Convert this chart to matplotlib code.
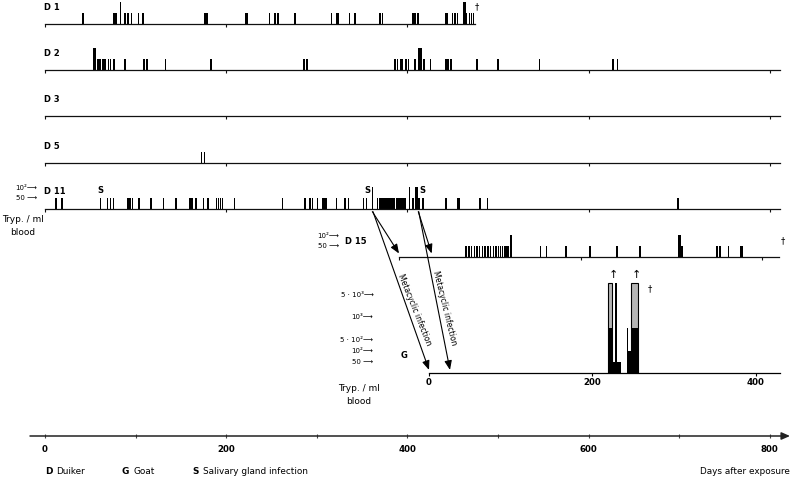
import matplotlib
matplotlib.use('Agg')
import matplotlib.pyplot as plt
from matplotlib.patches import ConnectionPatch

# ---------------- data (days after exposure; parasitaemia level) ----------------
LOW, HIGH = 50, 100          # trypanosomes / ml blood (50 and 10^2 marks)

d1_low = [42, 75.5, 77.5, 79, 88.5, 91.5, 95.5, 103, 108, 176.5, 179, 222, 223.5,
          247.5, 254, 257, 276, 316, 322.5, 324, 336, 342, 370, 372.5, 406, 408.5,
          411.5, 442, 443.5, 449.5, 452.5, 455.5, 465.5, 468.5, 471, 472.8]
d1_high = [83.5, 462, 463.5]
d1_death = 474.6

d2_low = [57.7, 59.6, 61.5, 63.2, 65.1, 67, 70, 72, 76, 88.5, 109.5, 112.5, 133, 183,
          286, 289, 386.5, 389, 393, 394.5, 398.5, 401.5, 408.5, 418.5, 425.5, 442.5,
          445, 448, 477, 500, 546, 627, 632]
d2_high = [53.5, 55, 412.5, 414, 415.5]

d3_low = []
d3_high = []

d5_low = [173, 176]
d5_high = []

d11_low = [12, 19, 61.5, 69, 72, 75.5, 91, 92.7, 94.5, 96.5, 104, 117, 130.5, 144.5,
           159.5, 161, 162.5, 166, 167.5, 175, 180, 189, 191.3, 193.5, 195.7, 209, 262,
           287, 292.5, 295, 300.5, 306.5, 308, 309.5, 311, 322, 331, 335, 351.5, 355, 367,
           370, 371, 372, 373, 374, 376, 377, 378, 379, 380, 382, 383, 384, 385, 386,
           388, 389, 390, 391, 392, 394, 395, 396, 397, 398,
           406, 413, 417, 442.5, 455, 457, 480, 488.5, 698.5]
d11_high = [361.3, 402.6, 409, 410.5]
d11_salivary = [61.5, 355.5, 416]

# D15: days after its own (metacyclic) infection
d15_low = [74, 77, 80, 83, 86, 89, 92, 95, 98, 101, 104, 107, 109.5, 112, 114, 116,
           118, 120, 156, 162.5, 184, 210.5, 240, 265.5, 311, 312.5, 350.5, 353.5, 363,
           377, 378.8]
d15_high = [123.5, 308, 309.5]

# Goat: parasitaemia on an ordinal scale (levels of the y-axis marks)
g_scale_labels = ['50 ⟶', '10²⟶', '5 · 10²⟶', '10³⟶', '5 · 10³⟶']
g_scale_levels = [1, 2, 3.04, 5.1, 7.15]
g_bar_start = [218.9, 224.2, 227.9, 242.9, 244.2, 247.5]
g_bar_end = [224.2, 234.8, 230.3, 244.2, 247.5, 255.7]
g_bar_black = [4.04, 1, 8.18, 4.04, 2, 4.04]   # black part of the bar
g_bar_top = [8.18, 1, 8.18, 4.04, 2, 8.18]     # above-scale part drawn grey
g_death = 270.7
g_offscale = [225.8, 253.6]

day_ticks = [0, 200, 400, 600, 800]
bottom_ticks = list(range(0, 801, 100))

# ---------------- layout helpers ----------------
W, H = 793, 483
PX_PER_DAY = 0.906
X0 = 45
plt.rcParams['font.family'] = ['DejaVu Sans']
fig = plt.figure(figsize=(W / 100, H / 100), dpi=100)


def add_ax(x0, x1, ybase, hpx):
    return fig.add_axes([x0 / W, 1 - ybase / H, (x1 - x0) / W, hpx / H])


def ftext(x, y, s, **kw):
    kw.setdefault('fontsize', 6)
    return fig.text(x / W, 1 - y / H, s, **kw)


BW = 1.6
YTOP = 100 * 24 / 22


def strip(ax, low, high, xmax, ticks, end=None):
    ax.bar(low, [LOW] * len(low), width=BW, color='black', linewidth=0)
    ax.bar(high, [HIGH] * len(high), width=BW, color='black', linewidth=0)
    ax.set_xlim(0, xmax)
    ax.set_ylim(0, YTOP)
    for s in ['top', 'right', 'left']:
        ax.spines[s].set_visible(False)
    ax.spines['bottom'].set_linewidth(0.9)
    ax.spines['bottom'].set_color('#111')
    if end is not None:
        ax.spines['bottom'].set_bounds(0, end)
    ax.set_xticks(ticks)
    ax.set_xticklabels([])
    ax.tick_params(axis='x', length=2.2, width=0.8, direction='out', color='#111')
    ax.set_yticks([])
    ax.patch.set_visible(False)


main_xmax = (780 - X0) / PX_PER_DAY

ax1 = add_ax(X0, 780, 24, 24)
strip(ax1, d1_low, d1_high, main_xmax, [0, 200, 400], end=d1_death)
ax1.text(d1_death + 2.5, 77, '†', fontsize=6, ha='center', va='center')

ax2 = add_ax(X0, 780, 70, 24)
strip(ax2, d2_low, d2_high, main_xmax, day_ticks)
ax3 = add_ax(X0, 780, 116, 24)
strip(ax3, d3_low, d3_high, main_xmax, day_ticks)
ax5 = add_ax(X0, 780, 163, 24)
strip(ax5, d5_low, d5_high, main_xmax, day_ticks)
ax11 = add_ax(X0, 780, 209, 24)
strip(ax11, d11_low, d11_high, main_xmax, day_ticks)
for d in d11_salivary:
    ax11.text(d, 86, 'S', fontsize=6, fontweight='bold', ha='center', va='center')
ax11.set_yticks([LOW, HIGH])
ax11.set_yticklabels(['50 ⟶', '10²⟶'], fontsize=5)
ax11.tick_params(axis='y', length=0, pad=6)

for y, lab in [(8, 'D 1'), (53.5, 'D 2'), (99.5, 'D 3'), (146.5, 'D 5'), (191, 'D 11')]:
    ftext(44, y, lab, fontweight='bold', va='center', ha='left')
ftext(23, 226, 'Tryp. / ml\nblood', fontsize=6.5, ha='center', va='center', linespacing=1.45)

# D15
ax15 = add_ax(399, 779, 257, 24)
strip(ax15, d15_low, d15_high, 380 / 0.9075, [0, 200, 400])
ax15.set_yticks([LOW, HIGH])
ax15.set_yticklabels(['50 ⟶', '10²⟶'], fontsize=5)
ax15.tick_params(axis='y', length=0, pad=43)
ftext(345, 242, 'D 15', fontweight='bold', va='center', ha='left')
ftext(783, 241, '†', fontsize=6, ha='center', va='center')

# Goat
axg = add_ax(429, 780, 372.7, 92)
axg.set_xlim(0, 430)
axg.set_ylim(0, 92 / 11)
for s, e, b, t in zip(g_bar_start, g_bar_end, g_bar_black, g_bar_top):
    if t > b:
        axg.bar(s, t, width=e - s, align='edge', color='#b5b5b5', edgecolor='black',
                linewidth=0.8)
    axg.bar(s, b, width=e - s, align='edge', color='black', linewidth=0)
for d in g_offscale:
    axg.text(d, 8.85, '↑', fontsize=8, ha='center', va='center')
axg.text(g_death, 7.6, '†', fontsize=6, ha='center', va='center')
for s in ['top', 'right', 'left']:
    axg.spines[s].set_visible(False)
axg.spines['bottom'].set_linewidth(0.9)
axg.set_xticks([0, 200, 400])
axg.set_xticklabels(['0', '200', '400'], fontsize=6.2, fontweight='bold')
axg.tick_params(axis='x', length=2, width=0.8, pad=1.5)
axg.set_yticks(g_scale_levels)
axg.set_yticklabels(g_scale_labels, fontsize=5)
axg.tick_params(axis='y', length=0, pad=40)
axg.patch.set_visible(False)
ftext(404, 356, 'G', fontweight='bold', va='center', ha='center')
ftext(359, 395, 'Tryp. / ml\nblood', fontsize=6.5, ha='center', va='center', linespacing=1.45)

# metacyclic infection arrows
arrow_kw = dict(arrowstyle='-|>,head_length=0.55,head_width=0.22', color='black',
                lw=0.8, shrinkA=0, shrinkB=0, mutation_scale=10)
for (xa, xb, axb_, yb) in [(361.3, 0, ax15, 16), (362, 0, axg, 0.25),
                           (412, 36, ax15, 16), (412.5, 25.7, axg, 0.25)]:
    con = ConnectionPatch(xyA=(xa, -12), coordsA=ax11.transData,
                          xyB=(xb, yb), coordsB=axb_.transData, **arrow_kw)
    fig.add_artist(con)
ftext(414, 310, 'Metacyclic infection', fontsize=5.5, rotation=-68,
      ha='center', va='center', rotation_mode='anchor')
ftext(445, 308, 'Metacyclic infection', fontsize=5.5, rotation=-76,
      ha='center', va='center', rotation_mode='anchor')

# bottom time axis
axb = add_ax(30, 790, 436, 8)
axb.set_xlim((30 - X0) / PX_PER_DAY, (790 - X0) / PX_PER_DAY)
axb.set_ylim(0, 1)
for s in axb.spines.values():
    s.set_visible(False)
axb.annotate('', xy=(1, 0), xytext=(0, 0), xycoords='axes fraction',
             arrowprops=dict(arrowstyle='-|>,head_length=0.5,head_width=0.22',
                             color='#222', lw=1.1, shrinkA=0, shrinkB=0))
axb.set_xticks(bottom_ticks)
axb.set_xticklabels([str(t) if t % 200 == 0 else '' for t in bottom_ticks],
                    fontsize=6.2, fontweight='bold')
axb.tick_params(axis='x', length=3, width=0.8, direction='inout', pad=5, color='#444')
axb.set_yticks([])
axb.patch.set_visible(False)

# legend line
ftext(45, 472, 'D', fontweight='bold', fontsize=6.4, va='center')
ftext(56, 472, 'Duiker', fontsize=6.4, va='center')
ftext(122, 472, 'G', fontweight='bold', fontsize=6.4, va='center')
ftext(134, 472, 'Goat', fontsize=6.4, va='center')
ftext(192, 472, 'S', fontweight='bold', fontsize=6.4, va='center')
ftext(203, 472, 'Salivary gland infection', fontsize=6.4, va='center')
ftext(790, 472, 'Days after exposure', fontsize=6.4, va='center', ha='right')

fig.savefig('out.png', dpi=100)
